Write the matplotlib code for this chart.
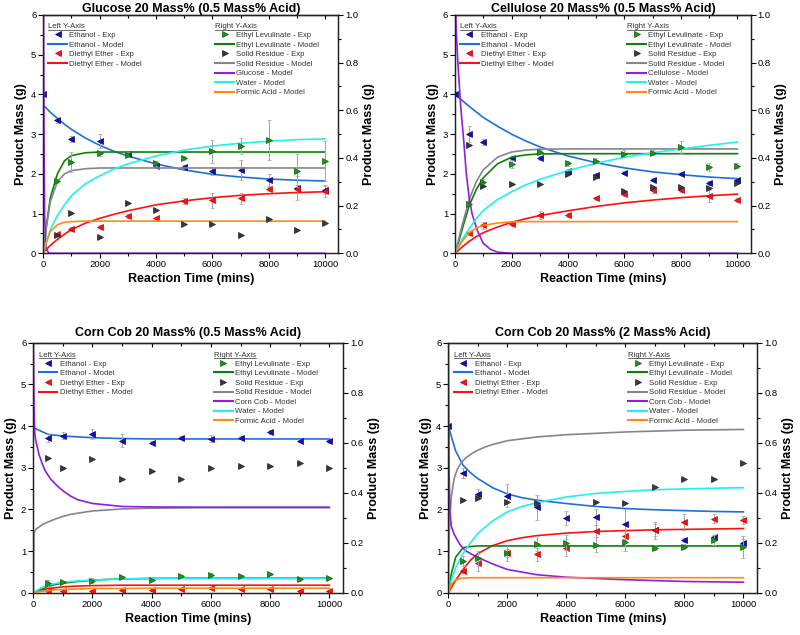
import numpy as np
import matplotlib
matplotlib.use("Agg")
import matplotlib.pyplot as plt
from matplotlib.ticker import MultipleLocator, FormatStrFormatter
from matplotlib.lines import Line2D

plt.rcParams["font.family"] = ["Liberation Sans", "DejaVu Sans"]

nan = np.nan

# time grids (mins)
t_eth = [0, 500, 1000, 2000, 3000, 4000, 5000, 6000, 7000, 8000, 9000, 10000]
t_exp = [500, 1000, 2000, 3000, 4000, 5000, 6000, 7000, 8000, 9000, 10000]
t_model = [0, 100, 250, 500, 750, 1000, 1500, 2000, 2500, 3000, 4000, 5000, 6000, 7000, 8000, 9000, 10000]
t_fast = [0, 25, 50, 100, 200, 300, 400, 500, 600, 800, 1000, 1250, 1500, 2000, 3000, 4000, 6000, 8000, 10000]

# ---- Glucose 20 Mass% (0.5 Mass% Acid) ----
glu_eth_exp = [4.0, 3.35, 2.87, 2.83, 2.5, 2.2, 2.17, 2.07, 2.1, 1.85, 1.65, 1.6]
glu_eth_err = [0, 0.06, 0.08, 0.18, 0.06, 0.05, 0.05, 0.1, 0.25, 0.15, 0.3, 0.1]
glu_de_exp = [0.48, 0.6, 0.67, 0.95, 0.88, 1.32, 1.33, 1.38, 1.62, 1.63, 1.58]
glu_de_err = [0.04, 0.05, 0.04, 0.05, 0.04, 0.08, 0.2, 0.15, 0.06, 0.1, 0.15]
glu_el_exp = [0.303, 0.383, 0.42, 0.413, 0.378, 0.4, 0.428, 0.45, 0.475, 0.347, 0.387]
glu_el_err = [0.01, 0.04, 0.01, 0.01, 0.01, 0.01, 0.047, 0.035, 0.083, 0.07, 0.085]
glu_sr_exp = [0.075, 0.17, 0.067, 0.213, 0.183, 0.122, 0.125, 0.077, 0.142, 0.097, 0.128]
glu_eth_mod = [3.72, 3.66, 3.55, 3.40, 3.25, 3.12, 2.90, 2.72, 2.57, 2.45, 2.25, 2.10, 1.99, 1.92, 1.87, 1.84, 1.82]
glu_de_mod = [0.02, 0.09, 0.20, 0.35, 0.48, 0.60, 0.76, 0.88, 0.98, 1.07, 1.22, 1.32, 1.40, 1.46, 1.50, 1.53, 1.55]
glu_el_mod = [0, 0.108, 0.233, 0.333, 0.388, 0.41, 0.422, 0.425, 0.425, 0.425, 0.425, 0.425, 0.425, 0.425, 0.425, 0.425, 0.425]
glu_sr_mod = [0, 0.1, 0.217, 0.3, 0.333, 0.347, 0.355, 0.358, 0.358, 0.358, 0.358, 0.358, 0.358, 0.358, 0.358, 0.358, 0.358]
glu_water_mod = [0, 0.042, 0.1, 0.158, 0.203, 0.242, 0.292, 0.325, 0.353, 0.375, 0.408, 0.433, 0.45, 0.462, 0.47, 0.477, 0.48]
glu_fa_mod = [0, 0.042, 0.092, 0.12, 0.13, 0.133, 0.135, 0.135, 0.135, 0.135, 0.135, 0.135, 0.135, 0.135, 0.135, 0.135, 0.135]
glu_sub_mod = [1.3, 0.5, 0.15, 0.02, 0, 0, 0, 0, 0, 0, 0, 0, 0, 0, 0, 0, 0, 0, 0]

# ---- Cellulose 20 Mass% (0.5 Mass% Acid) ----
cel_eth_exp = [4.0, 3.0, 2.8, 2.4, 2.4, 2.08, 1.98, 2.03, 1.85, 2.0, 1.77, 1.85]
cel_eth_err = [0, 0.2, 0.08, 0.05, 0.05, 0.05, 0.05, 0.04, 0.04, 0.04, 0.04, 0.05]
cel_de_exp = [0.5, 0.7, 0.73, 0.97, 0.96, 1.38, 1.5, 1.6, 1.6, 1.45, 1.35]
cel_de_err = [0.03, 0.1, 0.04, 0.1, 0.05, 0.04, 0.05, 0.08, 0.05, 0.15, 0.05]
cel_el_exp = [0.208, 0.3, 0.375, 0.425, 0.378, 0.388, 0.417, 0.422, 0.447, 0.362, 0.367]
cel_el_err = [0.005, 0.01, 0.015, 0.01, 0.01, 0.01, 0.015, 0.01, 0.025, 0.015, 0.01]
cel_sr_exp = [0.453, 0.283, 0.292, 0.292, 0.333, 0.32, 0.262, 0.278, 0.278, 0.272, 0.297]
cel_eth_mod = [4.0, 3.94, 3.85, 3.7, 3.56, 3.42, 3.2, 3.0, 2.83, 2.68, 2.45, 2.28, 2.15, 2.05, 1.98, 1.92, 1.88]
cel_de_mod = [0, 0.06, 0.16, 0.3, 0.42, 0.52, 0.66, 0.78, 0.87, 0.95, 1.07, 1.18, 1.27, 1.34, 1.40, 1.45, 1.49]
cel_el_mod = [0, 0.037, 0.1, 0.2, 0.267, 0.317, 0.375, 0.403, 0.413, 0.417, 0.418, 0.418, 0.418, 0.418, 0.418, 0.418, 0.418]
cel_sr_mod = [0, 0.045, 0.117, 0.225, 0.3, 0.35, 0.403, 0.425, 0.433, 0.437, 0.438, 0.438, 0.438, 0.438, 0.438, 0.438, 0.438]
cel_water_mod = [0, 0.025, 0.058, 0.103, 0.145, 0.18, 0.225, 0.258, 0.287, 0.31, 0.347, 0.378, 0.403, 0.422, 0.438, 0.453, 0.467]
cel_fa_mod = [0, 0.02, 0.05, 0.087, 0.105, 0.117, 0.127, 0.132, 0.133, 0.133, 0.133, 0.133, 0.133, 0.133, 0.133, 0.133, 0.133]
cel_sub_mod = [1.083, 1.0, 0.917, 0.8, 0.617, 0.483, 0.333, 0.233, 0.167, 0.092, 0.042, 0.017, 0.005, 0, 0, 0, 0, 0, 0]

# ---- Corn Cob 20 Mass% (0.5 Mass% Acid) ----
cc1_eth_exp = [nan, 3.72, 3.77, 3.8, 3.65, 3.6, 3.72, 3.7, 3.72, 3.85, 3.65, 3.63]
cc1_eth_err = [0, 0.1, 0.08, 0.12, 0.15, 0.03, 0.03, 0.08, 0.03, 0.05, 0.03, 0.03]
cc1_de_exp = [0.05, 0.03, 0.05, 0.07, 0.07, 0.1, 0.12, 0.1, 0.08, 0.05, 0.05]
cc1_de_err = [0.02, 0.02, 0.02, 0.02, 0.02, 0.02, 0.02, 0.02, 0.02, 0.02, 0.02]
cc1_el_exp = [0.037, 0.042, 0.047, 0.062, 0.05, 0.067, 0.072, 0.067, 0.075, 0.053, 0.058]
cc1_el_err = [0.015, 0.005, 0.01, 0.005, 0.005, 0.005, 0.005, 0.005, 0.005, 0.005, 0.005]
cc1_sr_exp = [0.538, 0.497, 0.533, 0.455, 0.487, 0.455, 0.5, 0.505, 0.505, 0.517, 0.5]
cc1_eth_mod = [3.96, 3.93, 3.88, 3.8, 3.78, 3.76, 3.74, 3.72, 3.71, 3.7, 3.69, 3.69, 3.69, 3.69, 3.69, 3.69, 3.69]
cc1_de_mod = [0, 0.03, 0.06, 0.1, 0.12, 0.14, 0.16, 0.17, 0.175, 0.18, 0.18, 0.18, 0.18, 0.18, 0.18, 0.18, 0.18]
cc1_el_mod = [0, 0.005, 0.013, 0.025, 0.033, 0.038, 0.045, 0.05, 0.053, 0.055, 0.057, 0.058, 0.058, 0.058, 0.058, 0.058, 0.058]
cc1_water_mod = [0, 0.008, 0.018, 0.03, 0.037, 0.042, 0.047, 0.05, 0.053, 0.055, 0.057, 0.057, 0.057, 0.057, 0.057, 0.057, 0.057]
cc1_fa_mod = [0, 0.002, 0.005, 0.008, 0.012, 0.013, 0.015, 0.017, 0.017, 0.017, 0.018, 0.018, 0.018, 0.018, 0.018, 0.018, 0.018]
cc1_sr_mod = [0, 0.233, 0.247, 0.255, 0.263, 0.272, 0.278, 0.283, 0.288, 0.297, 0.305, 0.313, 0.318, 0.327, 0.335, 0.338, 0.34, 0.34, 0.34]
cc1_sub_mod = [1.083, 0.75, 0.633, 0.6, 0.55, 0.517, 0.488, 0.47, 0.453, 0.428, 0.408, 0.387, 0.372, 0.357, 0.345, 0.343, 0.342, 0.342, 0.342]

# ---- Corn Cob 20 Mass% (2 Mass% Acid) ----
cc2_eth_exp = [4.0, 2.87, 2.38, 2.33, 2.05, 1.8, 1.82, 1.65, 1.5, 1.27, 1.33, 1.2]
cc2_eth_err = [0, 0.12, 0.12, 0.28, 0.3, 0.17, 0.2, 0.35, 0.2, 0.05, 0.05, 0.1]
cc2_de_exp = [0.53, 0.72, 0.95, 0.92, 1.08, 1.48, 1.37, 1.5, 1.7, 1.78, 1.75]
cc2_de_err = [0.05, 0.2, 0.1, 0.15, 0.2, 0.15, 0.1, 0.15, 0.2, 0.1, 0.1]
cc2_el_exp = [0.125, 0.137, 0.158, 0.195, 0.2, 0.192, 0.203, 0.18, 0.183, 0.212, 0.183]
cc2_el_err = [0.02, 0.03, 0.03, 0.03, 0.03, 0.03, 0.035, 0.01, 0.01, 0.02, 0.045]
cc2_sr_exp = [0.372, 0.378, 0.363, 0.358, nan, 0.362, 0.358, 0.422, 0.455, 0.455, 0.517]
cc2_eth_mod = [4.0, 3.75, 3.4, 3.06, 2.88, 2.74, 2.52, 2.37, 2.28, 2.22, 2.14, 2.07, 2.02, 1.99, 1.97, 1.95, 1.94]
cc2_de_mod = [0, 0.12, 0.3, 0.56, 0.78, 0.94, 1.13, 1.25, 1.32, 1.37, 1.43, 1.47, 1.49, 1.51, 1.52, 1.53, 1.54]
cc2_el_mod = [0, 0.075, 0.142, 0.18, 0.185, 0.187, 0.187, 0.187, 0.187, 0.187, 0.187, 0.187, 0.187, 0.187, 0.187, 0.187, 0.187]
cc2_water_mod = [0, 0.05, 0.1, 0.157, 0.2, 0.237, 0.287, 0.323, 0.345, 0.36, 0.383, 0.397, 0.405, 0.412, 0.415, 0.418, 0.42]
cc2_fa_mod = [0, 0.033, 0.053, 0.058, 0.06, 0.06, 0.06, 0.06, 0.06, 0.06, 0.06, 0.06, 0.06, 0.06, 0.06, 0.06, 0.06]
cc2_sr_mod = [0, 0.2, 0.3, 0.383, 0.458, 0.492, 0.513, 0.528, 0.54, 0.557, 0.57, 0.583, 0.593, 0.608, 0.623, 0.632, 0.643, 0.65, 0.653]
cc2_sub_mod = [1.083, 0.5, 0.333, 0.267, 0.233, 0.212, 0.192, 0.178, 0.167, 0.153, 0.142, 0.128, 0.115, 0.093, 0.072, 0.062, 0.052, 0.045, 0.042]

panels = [
    dict(title="Glucose 20 Mass% (0.5 Mass% Acid)", sub="Glucose", pos=[0.0541, 0.6011, 0.3688, 0.3753], pad=2.5,
         eth=glu_eth_exp, eth_err=glu_eth_err, de=glu_de_exp, de_err=glu_de_err,
         el=glu_el_exp, el_err=glu_el_err, sr=glu_sr_exp,
         eth_m=glu_eth_mod, de_m=glu_de_mod, el_m=glu_el_mod, sr_m=(t_model, glu_sr_mod),
         water_m=glu_water_mod, fa_m=glu_fa_mod, sub_m=glu_sub_mod),
    dict(title="Cellulose 20 Mass% (0.5 Mass% Acid)", sub="Cellulose", pos=[0.5688, 0.6011, 0.3696, 0.3753], pad=2.5,
         eth=cel_eth_exp, eth_err=cel_eth_err, de=cel_de_exp, de_err=cel_de_err,
         el=cel_el_exp, el_err=cel_el_err, sr=cel_sr_exp,
         eth_m=cel_eth_mod, de_m=cel_de_mod, el_m=cel_el_mod, sr_m=(t_model, cel_sr_mod),
         water_m=cel_water_mod, fa_m=cel_fa_mod, sub_m=cel_sub_mod),
    dict(title="Corn Cob 20 Mass% (0.5 Mass% Acid)", sub="Corn Cob", pos=[0.0416, 0.0666, 0.3875, 0.3937], pad=4.5,
         eth=cc1_eth_exp, eth_err=cc1_eth_err, de=cc1_de_exp, de_err=cc1_de_err,
         el=cc1_el_exp, el_err=cc1_el_err, sr=cc1_sr_exp,
         eth_m=cc1_eth_mod, de_m=cc1_de_mod, el_m=cc1_el_mod, sr_m=(t_fast, cc1_sr_mod),
         water_m=cc1_water_mod, fa_m=cc1_fa_mod, sub_m=cc1_sub_mod),
    dict(title="Corn Cob 20 Mass% (2 Mass% Acid)", sub="Corn Cob", pos=[0.5604, 0.0666, 0.3862, 0.3937], pad=4.5,
         eth=cc2_eth_exp, eth_err=cc2_eth_err, de=cc2_de_exp, de_err=cc2_de_err,
         el=cc2_el_exp, el_err=cc2_el_err, sr=cc2_sr_exp,
         eth_m=cc2_eth_mod, de_m=cc2_de_mod, el_m=cc2_el_mod, sr_m=(t_fast, cc2_sr_mod),
         water_m=cc2_water_mod, fa_m=cc2_fa_mod, sub_m=cc2_sub_mod),
]

C_ETH_EXP = "#1010c8"
C_ETH = "#1f6fd8"
C_DE = "#ff1010"
C_EL_EXP = "#1a961a"
C_EL = "#0a820a"
C_SR_EXP = "#383844"
C_SR = "#85858f"
C_SUB = "#8f1ee0"
C_WATER = "#1ff0f0"
C_FA = "#ff8a10"
C_ERR = "#a0a0aa"
LW = 1.2
MS = 5

fig = plt.figure(figsize=(8, 6.35), dpi=100)
headers = []

for p in panels:
    ax = fig.add_axes(p["pos"])
    ax2 = ax.twinx()
    ax.set_zorder(1)
    ax2.set_zorder(2)
    ax2.patch.set_visible(False)

    # left axis: ethanol & diethyl ether
    ax.plot(t_model, p["eth_m"], color=C_ETH, lw=LW, zorder=2)
    ax.plot(t_model, p["de_m"], color=C_DE, lw=LW, zorder=2)
    ax.errorbar(t_eth, p["eth"], yerr=p["eth_err"], fmt="<", color=C_ETH_EXP, mec="#000070", mew=0.5,
                ms=MS, ecolor=C_ERR, elinewidth=0.7, capsize=1.6, capthick=0.7, zorder=3)
    ax.errorbar(t_exp, p["de"], yerr=p["de_err"], fmt="<", color=C_DE, mec="#c00000", mew=0.5,
                ms=MS, ecolor=C_ERR, elinewidth=0.7, capsize=1.6, capthick=0.7, zorder=3)

    # right axis
    ax2.plot(t_model, p["el_m"], color=C_EL, lw=LW, zorder=2)
    ax2.plot(p["sr_m"][0], p["sr_m"][1], color=C_SR, lw=LW, zorder=2)
    ax2.plot(t_fast, p["sub_m"], color=C_SUB, lw=LW, zorder=2)
    ax2.plot(t_model, p["water_m"], color=C_WATER, lw=LW, zorder=2)
    ax2.plot(t_model, p["fa_m"], color=C_FA, lw=LW, zorder=2)
    ax2.errorbar(t_exp, p["el"], yerr=p["el_err"], fmt=">", color=C_EL_EXP, mec="#0a600a", mew=0.5,
                 ms=MS, ecolor=C_ERR, elinewidth=0.7, capsize=1.6, capthick=0.7, zorder=3)
    ax2.plot(t_exp, p["sr"], ">", color=C_SR_EXP, mec="#202028", mew=0.5, ms=MS, zorder=3)

    ax.set_xlim(0, 10470)
    ax.set_ylim(0, 6)
    ax2.set_ylim(0, 1.0)
    ax.xaxis.set_major_locator(MultipleLocator(2000))
    ax.xaxis.set_minor_locator(MultipleLocator(1000))
    ax.yaxis.set_major_locator(MultipleLocator(1))
    ax.yaxis.set_minor_locator(MultipleLocator(0.5))
    ax2.yaxis.set_major_locator(MultipleLocator(0.2))
    ax2.yaxis.set_minor_locator(MultipleLocator(0.1))
    ax2.yaxis.set_major_formatter(FormatStrFormatter("%.1f"))

    for a in (ax, ax2):
        a.tick_params(which="major", direction="out", length=3.5, width=0.8, labelsize=6.8, pad=1.5)
        a.tick_params(which="minor", direction="out", length=2, width=0.8)
        for s in a.spines.values():
            s.set_linewidth(0.9)
            s.set_color("#222222")
    top = ax.secondary_xaxis("top")
    top.xaxis.set_major_locator(MultipleLocator(2000))
    top.xaxis.set_minor_locator(MultipleLocator(1000))
    top.tick_params(which="major", direction="in", length=3, width=0.8, labeltop=False)
    top.tick_params(which="minor", direction="in", length=2, width=0.8)
    top.spines["top"].set_linewidth(0.9)

    ax.set_xlabel("Reaction Time (mins)", fontsize=9, fontweight="bold", labelpad=3)
    ax.set_ylabel("Product Mass (g)", fontsize=9, fontweight="bold", labelpad=3)
    ax2.set_ylabel("Product Mass (g)", fontsize=9, fontweight="bold", labelpad=3, rotation=90)
    ax.set_title(p["title"], fontsize=9, fontweight="bold", pad=p["pad"])

    mk = dict(ls="none", ms=MS, mew=0.5)
    left_h = [
        Line2D([], [], marker="<", color=C_ETH_EXP, mec="#000070", **mk),
        Line2D([], [], color=C_ETH, lw=1.5),
        Line2D([], [], marker="<", color=C_DE, mec="#c00000", **mk),
        Line2D([], [], color=C_DE, lw=1.5),
    ]
    left_l = ["Ethanol - Exp", "Ethanol - Model", "Diethyl Ether - Exp", "Diethyl Ether - Model"]
    right_h = [
        Line2D([], [], marker=">", color=C_EL_EXP, mec="#0a600a", **mk),
        Line2D([], [], color=C_EL, lw=1.5),
        Line2D([], [], marker=">", color=C_SR_EXP, mec="#202028", **mk),
        Line2D([], [], color=C_SR, lw=1.5),
        Line2D([], [], color=C_SUB, lw=1.5),
        Line2D([], [], color=C_WATER, lw=1.5),
        Line2D([], [], color=C_FA, lw=1.5),
    ]
    right_l = ["Ethyl Levulinate - Exp", "Ethyl Levulinate - Model", "Solid Residue - Exp",
               "Solid Residue - Model", p["sub"] + " - Model", "Water - Model", "Formic Acid - Model"]
    lkw = dict(loc="upper left", frameon=False, fontsize=5.6, handlelength=2.4, handletextpad=0.3,
               labelspacing=0.27, borderpad=0, borderaxespad=0, labelcolor="#333333")
    leg1 = ax2.legend(left_h, left_l, bbox_to_anchor=(0.017, 0.93), **lkw)
    ax2.add_artist(leg1)
    ax2.legend(right_h, right_l, bbox_to_anchor=(0.583, 0.93), **lkw)

    h1 = ax2.text(0.017, 0.95, "Left Y-Axis", transform=ax2.transAxes, fontsize=5.6, color="#333333",
                  va="center", ha="left")
    h2 = ax2.text(0.583, 0.95, "Right Y-Axis", transform=ax2.transAxes, fontsize=5.6, color="#333333",
                  va="center", ha="left")
    headers += [(ax2, h1), (ax2, h2)]

fig.canvas.draw()
r = fig.canvas.get_renderer()
for a, t in headers:
    bb = t.get_window_extent(r).transformed(a.transAxes.inverted())
    yl = bb.y0 + bb.height * 0.12
    a.add_line(Line2D([bb.x0, bb.x1], [yl, yl], transform=a.transAxes, color="#333333", lw=0.5))

fig.savefig("out.png", dpi=100)
